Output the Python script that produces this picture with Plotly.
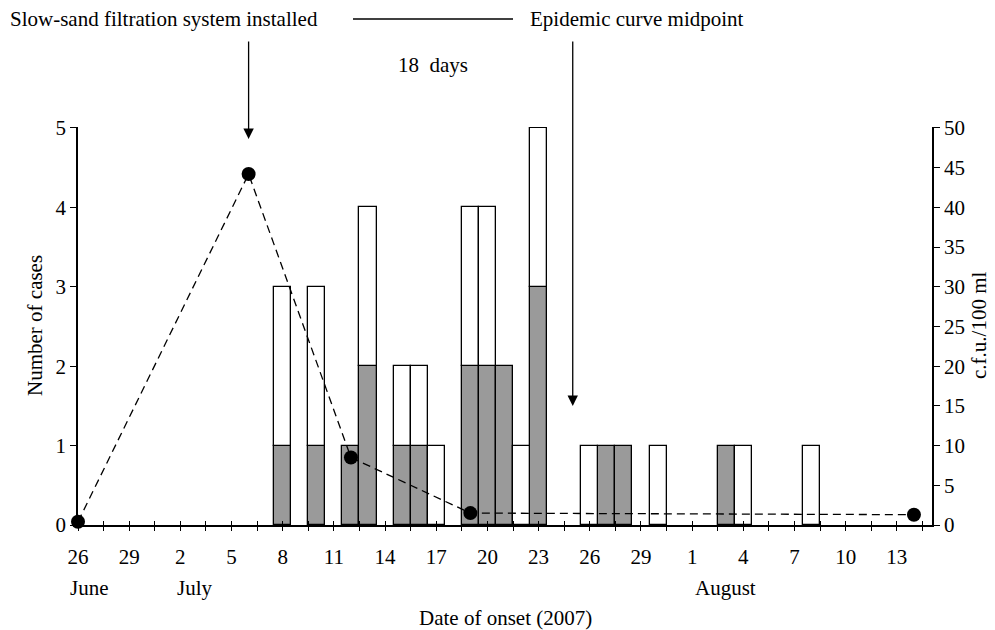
import plotly.graph_objects as go

# ---- data ----
onset_dates = ["2007-07-08", "2007-07-10", "2007-07-12", "2007-07-13", "2007-07-15",
               "2007-07-16", "2007-07-17", "2007-07-19", "2007-07-20", "2007-07-21",
               "2007-07-22", "2007-07-23", "2007-07-26", "2007-07-27", "2007-07-28",
               "2007-07-30", "2007-08-03", "2007-08-04", "2007-08-08"]
cases_grey = [1, 1, 1, 2, 1, 1, 0, 2, 2, 2, 0, 3, 0, 1, 1, 0, 1, 0, 0]
cases_white = [2, 2, 0, 2, 1, 1, 1, 2, 2, 0, 1, 2, 1, 0, 0, 1, 0, 1, 1]

sample_dates = ["2007-06-26", "2007-07-06", "2007-07-12", "2007-07-19", "2007-08-14"]
cfu_values = [0.4, 44.2, 8.5, 1.5, 1.3]

tick_dates = ["2007-06-26", "2007-06-29", "2007-07-02", "2007-07-05", "2007-07-08",
              "2007-07-11", "2007-07-14", "2007-07-17", "2007-07-20", "2007-07-23",
              "2007-07-26", "2007-07-29", "2007-08-01", "2007-08-04", "2007-08-07",
              "2007-08-10", "2007-08-13"]
tick_labels = ["26", "29", "2", "5", "8", "11", "14", "17", "20", "23", "26", "29",
               "1", "4", "7", "10", "13"]
month_dates = ["2007-06-26", "2007-07-02", "2007-08-01"]
month_labels = ["June", "July", "August"]
month_shift = [-10, -5, 1]

filtration_date = "2007-07-06"
midpoint_date = "2007-07-25"

x_start = "2007-06-26"
x_end = "2007-08-15 01:25"

FONT = "Liberation Serif"
FS = 21
GREY = "#9a9a9a"
DAY_MS = 86400000

# page pixel -> paper coordinates (plot area spans x 78..932, y 127..525)
def px(p):
    return (p - 78) / 854

def py(p):
    return (525 - p) / 398

grey_y = [v if v else None for v in cases_grey]
white_y = [v if v else None for v in cases_white]

fig = go.Figure()
fig.add_trace(go.Bar(x=onset_dates, y=grey_y, width=[DAY_MS] * len(onset_dates),
                     marker=dict(color=GREY, line=dict(color="black", width=1.3)),
                     showlegend=False, yaxis="y"))
fig.add_trace(go.Bar(x=onset_dates, y=white_y, base=cases_grey,
                     width=[DAY_MS] * len(onset_dates),
                     marker=dict(color="white", line=dict(color="black", width=1.3)),
                     showlegend=False, yaxis="y"))
fig.add_trace(go.Scatter(x=sample_dates, y=cfu_values, mode="lines+markers",
                         line=dict(color="black", width=1.3, dash="8px,5px"),
                         marker=dict(color="black", size=14),
                         showlegend=False, yaxis="y2", cliponaxis=False))

fig.update_layout(
    width=995, height=630,
    margin=dict(l=78, r=63, t=127, b=105, pad=0),
    paper_bgcolor="white", plot_bgcolor="rgba(0,0,0,0)",
    font=dict(family=FONT, size=FS, color="black"),
    barmode="overlay", bargap=0,
    xaxis=dict(type="date", range=[x_start, x_end], tickmode="array",
               tickvals=tick_dates, ticktext=tick_labels, ticks="outside",
               ticklen=4, tickwidth=1.2, tickcolor="black", showline=True,
               linecolor="black", linewidth=1.5, showgrid=False, zeroline=False,
               ticklabelstandoff=8,
               minor=dict(ticks="outside", ticklen=4, tickwidth=1.2, tickcolor="black",
                          tick0=x_start, dtick=1.5 * DAY_MS, showgrid=False),
               tickfont=dict(family=FONT, size=FS)),
    xaxis2=dict(type="date", range=[x_start, x_end], overlaying="x", anchor="y",
                side="bottom", tickmode="array", tickvals=tick_dates,
                ticks="inside", ticklen=4, tickwidth=1.2, tickcolor="black",
                showticklabels=False, showline=False, showgrid=False, zeroline=False,
                minor=dict(ticks="inside", ticklen=4, tickwidth=1.2, tickcolor="black",
                           tick0=x_start, dtick=1.5 * DAY_MS, showgrid=False)),
    yaxis=dict(range=[0, 5.012], tickvals=[0, 1, 2, 3, 4, 5], ticks="outside",
               ticklen=6, tickwidth=1.2, tickcolor="black", showline=True,
               linecolor="black", linewidth=1.5, showgrid=False, zeroline=False,
               tickfont=dict(family=FONT, size=FS)),
    yaxis2=dict(range=[0, 50.12], tickvals=list(range(0, 55, 5)), overlaying="y",
                side="right", anchor="x", ticks="outside", ticklen=6, tickwidth=1.2,
                tickcolor="black", showline=True, linecolor="black", linewidth=1.5,
                showgrid=False, zeroline=False, tickfont=dict(family=FONT, size=FS)),
)
# helper trace to activate the overlay axis used for crossing tick marks
fig.add_trace(go.Scatter(x=[x_start], y=[None], xaxis="x2", yaxis="y",
                         showlegend=False, hoverinfo="skip"))

ann = []
for d, lab, sh in zip(month_dates, month_labels, month_shift):
    ann.append(dict(x=d, xref="x", y=py(588), yref="paper", text=lab,
                    showarrow=False, xanchor="left", yanchor="middle", xshift=sh))
ann.append(dict(x=0.5, xref="paper", y=py(618), yref="paper",
                text="Date of onset (2007)", showarrow=False, yanchor="middle"))
ann.append(dict(x=px(35), xref="paper", y=0.5, yref="paper",
                text="Number of cases", textangle=-90, showarrow=False,
                xanchor="center", yanchor="middle"))
ann.append(dict(x=px(979), xref="paper", y=0.5, yref="paper",
                text="c.f.u./100 ml", textangle=-90, showarrow=False,
                xanchor="center", yanchor="middle"))
ann.append(dict(x=px(320), xref="paper", y=py(19), yref="paper",
                text="Slow-sand filtration system installed", showarrow=False,
                xanchor="right", yanchor="middle"))
ann.append(dict(x=px(528), xref="paper", y=py(19), yref="paper",
                text="Epidemic curve midpoint", showarrow=False,
                xanchor="left", yanchor="middle"))
ann.append(dict(x=px(433), xref="paper", y=py(65), yref="paper",
                text="18&nbsp; days", showarrow=False,
                xanchor="center", yanchor="middle"))
ann.append(dict(x=filtration_date, xref="x", y=py(139), yref="paper",
                text="", showarrow=True, ax=0, ay=-99, arrowhead=2, arrowsize=1.6,
                arrowwidth=1.3, arrowcolor="black", standoff=0))
ann.append(dict(x=midpoint_date, xref="x", y=py(406), yref="paper",
                text="", showarrow=True, ax=0, ay=-366, arrowhead=2, arrowsize=1.6,
                arrowwidth=1.3, arrowcolor="black", standoff=0))
fig.update_layout(annotations=ann)

fig.add_shape(type="line", xref="paper", yref="paper",
              x0=px(353), x1=px(513), y0=py(19), y1=py(19),
              line=dict(color="black", width=1.3))

fig.write_html("out.html", config={"displayModeBar": False},
               post_script="document.body.style.margin='0';document.body.style.padding='0';")
